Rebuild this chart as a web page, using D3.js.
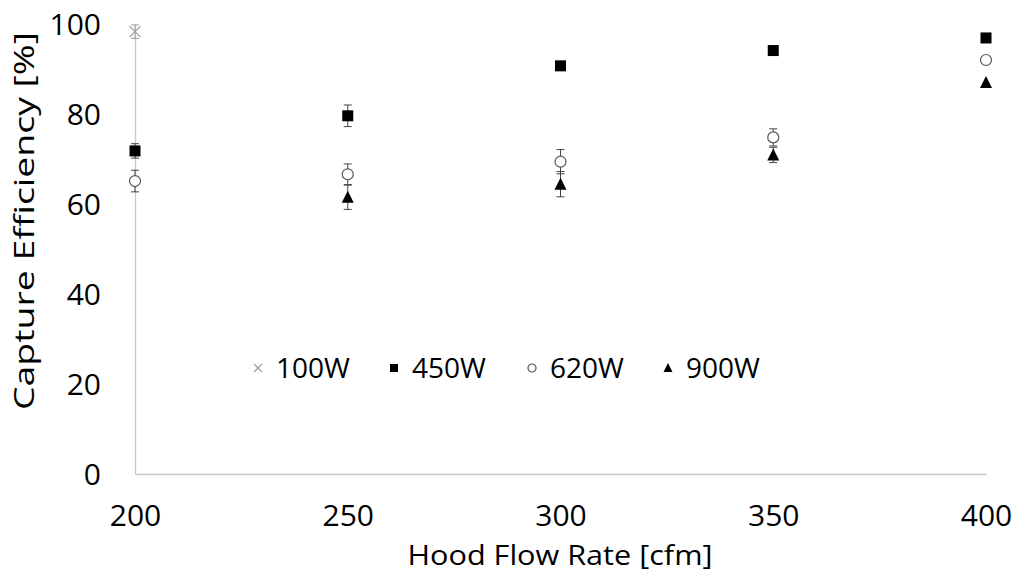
<!DOCTYPE html>
<html>
<head>
<meta charset="utf-8">
<script src="https://cdn.jsdelivr.net/npm/d3@7"></script>
<style>
  body { margin: 0; background: #fff; }
  text { font-family: "Open Sans", sans-serif; fill: #000; }
</style>
</head>
<body>
<div id="chart"></div>
<script>
// data
var flowRates = [200, 250, 300, 350, 400];
var seriesNames = ["100W", "450W", "620W", "900W"];
var eff100 = [98.3, null, null, null, null];
var err100 = [1.5, 0, 0, 0, 0];
var eff450 = [71.8, 79.6, 90.7, 94.1, 96.9];
var err450 = [1.6, 2.4, 0.4, 0.4, 0.4];
var eff620 = [65.1, 66.6, 69.4, 74.8, 92.0];
var err620 = [2.4, 2.3, 2.7, 1.9, 0.4];
var eff900 = [null, 61.5, 64.4, 70.9, 87.0];
var err900 = [0, 2.7, 2.8, 1.7, 0.4];
var xTicks = [200, 250, 300, 350, 400];
var yTicks = [0, 20, 40, 60, 80, 100];

var width = 1018, height = 576;
var margin = {top: 24, right: 32, bottom: 102, left: 135};

var svg = d3.select("#chart").append("svg")
  .attr("width", width).attr("height", height);

var x = d3.scaleLinear().domain([200, 400]).range([margin.left, width - margin.right]);
var y = d3.scaleLinear().domain([0, 100]).range([height - margin.bottom, margin.top]);

// axes
var xAxis = d3.axisBottom(x).tickValues(xTicks).tickSize(0).tickPadding(31);
var yAxis = d3.axisLeft(y).tickValues(yTicks).tickSize(0).tickPadding(34);

var gx = svg.append("g").attr("transform", "translate(0," + y(0) + ")").call(xAxis);
var gy = svg.append("g").attr("transform", "translate(" + x(200) + ",0)").call(yAxis);
[gx, gy].forEach(function(g) {
  g.select(".domain").attr("stroke", "#c8c8c8").attr("stroke-width", 1.3);
  g.selectAll("text").style("font-size", "30px").attr("fill", "#000")
    .style("font-family", "'Open Sans', sans-serif");
});
gy.selectAll("text").attr("dy", "0.36em");

svg.append("text").attr("x", 560).attr("y", 565)
  .attr("text-anchor", "middle").style("font-size", "27px")
  .attr("textLength", 305).attr("lengthAdjust", "spacingAndGlyphs")
  .text("Hood Flow Rate [cfm]");
svg.append("text")
  .attr("transform", "translate(34,221) rotate(-90)")
  .attr("text-anchor", "middle").style("font-size", "28px")
  .attr("textLength", 378).attr("lengthAdjust", "spacingAndGlyphs")
  .text("Capture Efficiency [%]");

var series = [
  {name: "100W", vals: eff100, errs: err100, shape: "x"},
  {name: "450W", vals: eff450, errs: err450, shape: "square"},
  {name: "620W", vals: eff620, errs: err620, shape: "circle"},
  {name: "900W", vals: eff900, errs: err900, shape: "triangle"}
];

function drawMarker(g, shape, s) {
  if (shape === "x") {
    g.append("path").attr("d", "M" + (-s/2) + "," + (-s/2) + "L" + (s/2) + "," + (s/2) +
      "M" + (s/2) + "," + (-s/2) + "L" + (-s/2) + "," + (s/2))
      .attr("stroke", "#a0a0a0").attr("stroke-width", 1.3).attr("fill", "none");
  } else if (shape === "square") {
    g.append("rect").attr("x", -s/2).attr("y", -s/2).attr("width", s).attr("height", s).attr("fill", "#000");
  } else if (shape === "circle") {
    g.append("circle").attr("r", s/2).attr("fill", "#fff").attr("stroke", "#555").attr("stroke-width", 1.2);
  } else {
    g.append("path").attr("d", "M0," + (-s/2 - 1) + "L" + (s/2 + 0.5) + "," + (s/2) + "L" + (-s/2 - 0.5) + "," + (s/2) + "Z")
      .attr("fill", "#000");
  }
}

series.forEach(function(sr) {
  flowRates.forEach(function(fr, i) {
    var v = sr.vals[i];
    if (v === null) return;
    var e = sr.errs[i];
    var cx = x(fr);
    var eb = svg.append("g").attr("stroke", sr.shape === "x" ? "#a0a0a0" : "#444").attr("stroke-width", 1);
    if (e > 0.5) {
      eb.append("line").attr("x1", cx).attr("x2", cx).attr("y1", y(v + e)).attr("y2", y(v - e));
      eb.append("line").attr("x1", cx - 4).attr("x2", cx + 4).attr("y1", y(v + e)).attr("y2", y(v + e));
      eb.append("line").attr("x1", cx - 4).attr("x2", cx + 4).attr("y1", y(v - e)).attr("y2", y(v - e));
    }
    var g = svg.append("g").attr("transform", "translate(" + cx + "," + y(v) + ")");
    drawMarker(g, sr.shape, 11);
  });
});

// legend
var legendX = [258, 394, 532, 668];
series.forEach(function(sr, i) {
  var g = svg.append("g").attr("transform", "translate(" + legendX[i] + ",368)");
  drawMarker(g, sr.shape, 8);
  g.append("text").attr("x", 18).attr("dy", "0.36em").style("font-size", "28px").text(sr.name);
});
</script>
</body>
</html>
